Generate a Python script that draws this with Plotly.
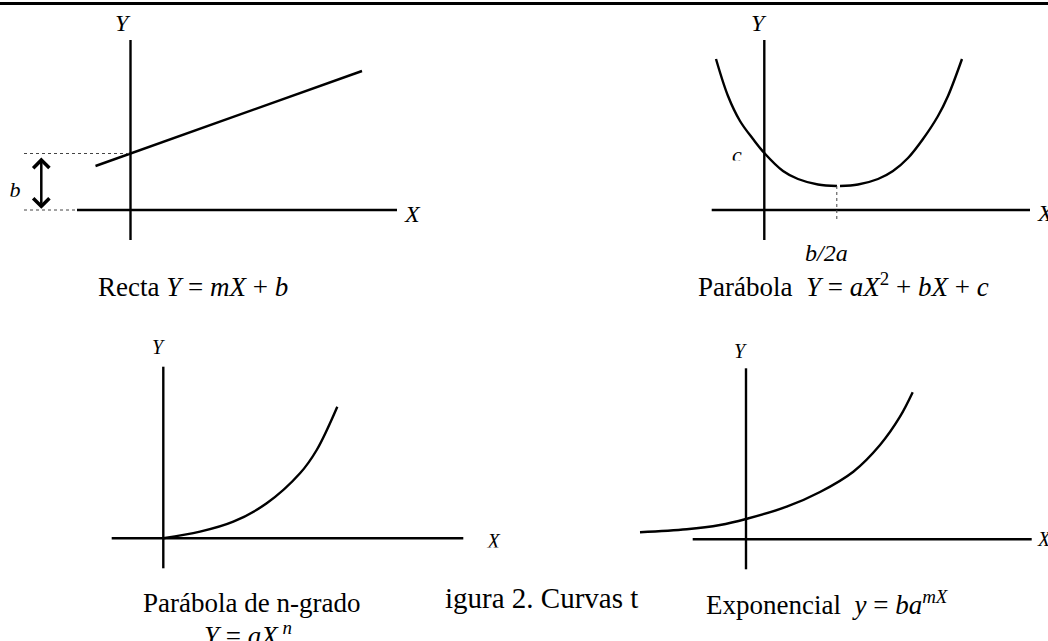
import plotly.graph_objects as go

# values, each panel in its own units (origin = axis crossing)

# Recta Y = mX + b
recta_x = [-3.5, 23.15]
recta_y = [4.4, 13.9]
recta_b = 5.65

# Parábola Y = aX^2 + bX + c (small gap at the vertex in the original)
parab_x = [-4.83, -3.63, -2.43, -1.13, 0.0, 1.87, 3.37, 5.37, 7.27, None,
           7.57, 9.37, 11.37, 12.87, 14.37, 15.87, 17.37, 18.37, 19.77]
parab_y = [15.1, 11.4, 8.9, 7.1, 5.7, 3.9, 3.1, 2.55, 2.4, None,
           2.4, 2.55, 3.1, 3.9, 5.2, 7.1, 9.4, 11.4, 15.1]
parab_vertex = [7.25, 2.4]

# Parábola de n-grado Y = aX^n
ngrado_x = [0.0, 3.67, 7.0, 10.34, 13.67, 15.34, 17.4]
ngrado_y = [0.0, 0.66, 1.66, 3.5, 6.5, 8.83, 13.16]

# Exponencial y = ba^mX
expo_x = [-10.6, -5.93, -2.6, 0.0, 4.07, 7.4, 10.73, 13.4, 15.4, 16.67]
expo_y = [0.7, 1.0, 1.43, 2.03, 3.26, 4.73, 6.76, 9.43, 12.26, 14.7]

# axis extents per panel: x from, x to, y from, y to
axes_extent = {
    1: [-5.35, 26.65, -3.0, 17.0],
    2: [-5.26, 26.57, -3.0, 17.0],
    3: [-5.16, 30.0, -3.0, 17.16],
    4: [-5.33, 28.57, -3.0, 17.1],
}

captions = {
    1: "Recta <i>Y</i> = <i>mX</i> + <i>b</i>",
    2: "Parábola  <i>Y</i> = <i>aX</i><sup>2</sup> + <i>bX</i> + <i>c</i>",
    3: "Parábola de n-grado",
    4: "Exponencial  <i>y</i> = <i>ba</i><sup><i>mX</i></sup>",
}

W, H = 1048, 641
SCALE = 10.0  # px per unit
SERIF = "Liberation Serif, Times New Roman, serif"

# page position of each panel: origin px, and box (left, right, top, bottom) px
panels = {
    1: dict(origin=(130.5, 210.0), box=(0, 524, 10, 320)),
    2: dict(origin=(764.3, 210.0), box=(524, 1048, 10, 320)),
    3: dict(origin=(163.3, 538.3), box=(0, 524, 320, 641)),
    4: dict(origin=(746.0, 539.3), box=(524, 1048, 320, 641)),
}

fig = go.Figure()
layout = {}
for k, p in panels.items():
    ox, oy = p["origin"]
    l, r, t, b = p["box"]
    sfx = "" if k == 1 else str(k)
    layout["xaxis" + sfx] = dict(domain=[l / W, r / W], range=[(l - ox) / SCALE, (r - ox) / SCALE],
                                 visible=False, anchor="y" + sfx, fixedrange=True)
    layout["yaxis" + sfx] = dict(domain=[1 - b / H, 1 - t / H], range=[(oy - b) / SCALE, (oy - t) / SCALE],
                                 visible=False, anchor="x" + sfx, fixedrange=True)


def ax_refs(k):
    sfx = "" if k == 1 else str(k)
    return "x" + sfx, "y" + sfx


def add_line(k, xs, ys, width=2.4, dash=None, color="black", smooth=False):
    xr, yr = ax_refs(k)
    fig.add_trace(go.Scatter(
        x=xs, y=ys, xaxis=xr, yaxis=yr, mode="lines", hoverinfo="skip",
        line=dict(color=color, width=width, dash=dash,
                  shape="spline" if smooth else "linear", smoothing=1.0),
        connectgaps=False, showlegend=False))


def add_text(k, x, y, text, size, xanchor="center"):
    xr, yr = ax_refs(k)
    fig.add_annotation(x=x, y=y, xref=xr, yref=yr, text=text, showarrow=False,
                       xanchor=xanchor, yanchor="middle",
                       font=dict(family=SERIF, size=size, color="black"))


def add_cut_text(k, x, y, text, size, cut_y, half_w):
    # label whose lower part is hidden in the original scan
    xr, yr = ax_refs(k)
    fig.add_trace(go.Scatter(x=[x], y=[y], xaxis=xr, yaxis=yr, mode="text", text=[text],
                             textposition="middle center", hoverinfo="skip", showlegend=False,
                             textfont=dict(family=SERIF, size=size, color="black")))
    fig.add_shape(type="rect", xref=xr, yref=yr, x0=x - half_w, x1=x + half_w,
                  y0=cut_y, y1=cut_y - 1.0, fillcolor="white", line=dict(width=0), layer="above")


# the X / Y axes of each sketch
for k, (x0, x1, y0, y1) in axes_extent.items():
    add_line(k, [x0, x1], [0, 0])
    add_line(k, [0, 0], [y0, y1])

# panel 1
add_line(1, recta_x, recta_y)
add_line(1, [-10.65, 0], [recta_b, recta_b], width=1, dash="dot", color="#444")
add_line(1, [-10.65, axes_extent[1][0]], [0, 0], width=1, dash="dot", color="#444")
fig.add_annotation(x=-8.92, y=0.12, ax=-8.92, ay=recta_b - 0.25, xref="x", yref="y",
                   axref="x", ayref="y", text="", showarrow=True, arrowside="end+start",
                   arrowhead=4, startarrowhead=4, arrowsize=1.25, startarrowsize=1.25,
                   arrowwidth=2.5, arrowcolor="black", standoff=0, startstandoff=0)
add_cut_text(1, -11.55, 1.85, "<i>b</i>", 22, 1.33, 1.1)
add_text(1, -0.75, 18.7, "<i>Y</i>", 24)
add_text(1, 28.15, -0.4, "<i>X</i>", 24)

# panel 2
add_line(2, parab_x, parab_y, smooth=True)
add_line(2, [parab_vertex[0], parab_vertex[0]], [parab_vertex[1], -1.2], width=1, dash="dot", color="#444")
add_cut_text(2, -2.73, 5.35, "<i>c</i>", 22, 4.95, 0.9)
add_text(2, -0.53, 18.7, "<i>Y</i>", 24)
add_text(2, 28.07, -0.3, "<i>X</i>", 24)
add_text(2, 6.24, -4.3, "<i>b/2a</i>", 24)

# panel 3
add_line(3, ngrado_x, ngrado_y, smooth=True)
add_text(3, -0.53, 19.16, "<i>Y</i>", 20)
add_cut_text(3, 33.02, -0.45, "<i>X</i>", 20, -0.92, 1.2)

# panel 4
add_line(4, expo_x, expo_y, smooth=True)
add_text(4, -0.53, 18.86, "<i>Y</i>", 20)
add_cut_text(4, 29.8, -0.2, "<i>X</i>", 20, -0.77, 1.2)

# captions, placed on the page
caption_pos = {1: (193, 287), 2: (843, 285), 3: (251, 603), 4: (827, 603)}
for k, (cx, cy) in caption_pos.items():
    fig.add_annotation(x=cx / W, y=1 - cy / H, xref="paper", yref="paper", text=captions[k],
                       showarrow=False, xanchor="center", yanchor="middle",
                       font=dict(family=SERIF, size=27, color="black"))
fig.add_annotation(x=247.5 / W, y=1 - 634 / H, xref="paper", yref="paper",
                   text="<i>Y</i> = <i>aX</i><sup> <i>n</i></sup>", showarrow=False,
                   xanchor="center", yanchor="middle", font=dict(family=SERIF, size=27, color="black"))
fig.add_annotation(x=541 / W, y=1 - 598 / H, xref="paper", yref="paper", text="igura 2. Curvas t",
                   showarrow=False, xanchor="center", yanchor="middle",
                   font=dict(family=SERIF, size=29, color="black"))

# rule across the top of the page
fig.add_shape(type="line", xref="paper", yref="paper", x0=0, x1=1, y0=1 - 3.5 / H, y1=1 - 3.5 / H,
              line=dict(color="black", width=3))

fig.update_layout(layout)
fig.update_layout(width=W, height=H, margin=dict(l=0, r=0, t=0, b=0),
                  paper_bgcolor="white", plot_bgcolor="white", showlegend=False)

# page body margin would push the figure 8px down/right
fig.write_html("out.html", config={"displayModeBar": False},
               post_script="document.body.style.margin='0px';")
